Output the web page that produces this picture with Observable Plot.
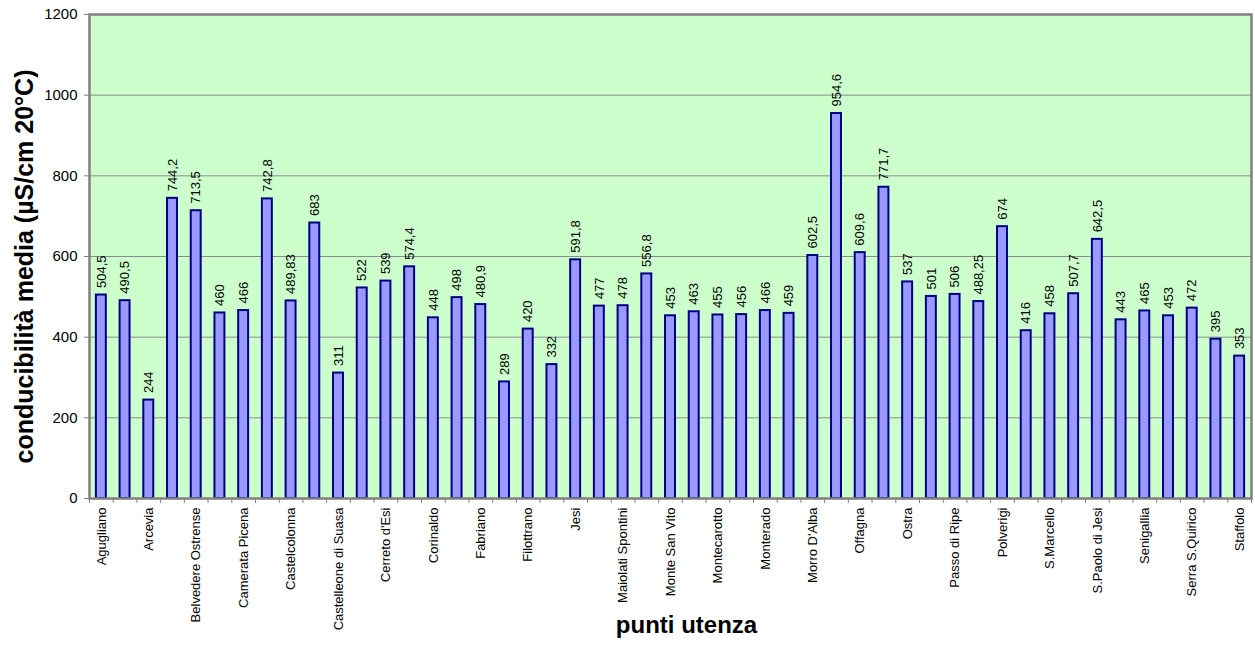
<!DOCTYPE html>
<html><head><meta charset="utf-8">
<script src="https://cdn.jsdelivr.net/npm/d3@7"></script>
<script src="https://cdn.jsdelivr.net/npm/@observablehq/plot@0.6"></script>
<style>body{margin:0;background:#fff}</style>
</head><body><div id="chart"></div>
<script>
const categories = ["Agugliano","Ancona","Arcevia","Barbara","Belvedere Ostrense","Camerano","Camerata Picena","Castelbellino","Castelcolonna","Castelfidardo","Castelleone di Suasa","Castelplanio","Cerreto d'Esi","Chiaravalle","Corinaldo","Cupramontana","Fabriano","Falconara Marittima","Filottrano","Genga","Jesi","Loreto","Maiolati Spontini","Mergo","Monte San Vito","Monte Roberto","Montecarotto","Montemarciano","Monterado","Montesicuro","Morro D'Alba","Numana","Offagna","Osimo","Ostra","Ostra Vetere","Passo di Ripe","Poggio San Marcello","Polverigi","Rosora","S.Marcello","S.Maria Nuova","S.Paolo di Jesi","Sassoferrato","Senigallia","Serra de' Conti","Serra S.Quirico","Sirolo","Staffolo"];
const values = [504.5,490.5,244,744.2,713.5,460,466,742.8,489.83,683,311,522,539,574.4,448,498,480.9,289,420,332,591.8,477,478,556.8,453,463,455,456,466,459,602.5,954.6,609.6,771.7,537,501,506,488.25,674,416,458,507.7,642.5,443,465,453,472,395,353];
const tickLabels = ["Agugliano","Arcevia","Belvedere Ostrense","Camerata Picena","Castelcolonna","Castelleone di Suasa","Cerreto d'Esi","Corinaldo","Fabriano","Filottrano","Jesi","Maiolati Spontini","Monte San Vito","Montecarotto","Monterado","Morro D'Alba","Offagna","Ostra","Passo di Ripe","Polverigi","S.Marcello","S.Paolo di Jesi","Senigallia","Serra S.Quirico","Staffolo"];
const yTicks = [0,200,400,600,800,1000,1200];
const xTitle = "punti utenza";
const yTitle = "conducibilità media (µS/cm 20°C)";

const data = categories.map((c,i)=>({c, v: values[i]}));
const W=1255,H=653, mL=89, mR=4, mT=14, mB=155;
const step = (W-mL-mR)/categories.length;
const fmt = v => String(v).replace(".", ",");
const font = "'Liberation Sans', Arial, sans-serif";

const chart = Plot.plot({
  width: W, height: H, marginLeft: mL, marginRight: mR, marginTop: mT, marginBottom: mB,
  style: {fontFamily: font, background: "#fff", color: "#000", overflow: "visible"},
  x: {domain: categories, paddingInner: 0.58, paddingOuter: 0.29, align: 0.5, label: null},
  y: {domain: [0,1200], label: null},
  marks: [
    Plot.frame({fill: "#CCFFCC"}),
    Plot.gridY(yTicks.slice(1), {stroke: "#8c8c8c", strokeOpacity: 1}),
    Plot.barY(data, {x:"c", y:"v", fill:"#9999FF", stroke:"#000080", strokeWidth:2}),
    Plot.text(data, {x:"c", y:"v", text: d=>fmt(d.v), rotate:-90, textAnchor:"start", dy:-7, fontSize:13, fill:"#000"}),
    Plot.frame({stroke:"#808080", strokeWidth:2.5}),
    Plot.axisY({ticks: yTicks, tickSize:5, tickPadding:7, fontSize:15, stroke:"#808080", fill:"#000", label:null, tickFormat: d=>String(d)}),
    Plot.axisX({ticks: categories, tickSize:5, tickFormat: () => "", dx:-step/2, stroke:"#808080", label:null}),
    Plot.axisX({ticks: [categories[categories.length-1]], tickSize:5, tickFormat: () => "", dx: step/2, stroke:"#808080", label:null}),
    Plot.axisX({ticks: tickLabels, tickSize:0, tickRotate:-90, tickPadding:9, fontSize:13, fill:"#000", label:null}),
    Plot.text([yTitle], {frameAnchor:"left", textAnchor:"middle", rotate:-90, dx:-65, dy:10, fontSize:25, fontWeight:"bold", fill:"#000"}),
    Plot.text([xTitle], {frameAnchor:"bottom", textAnchor:"middle", dx:16, dy:134, fontSize:24, fontWeight:"bold", fill:"#000"})
  ]
});
document.getElementById("chart").appendChild(chart);
</script>
</body></html>
